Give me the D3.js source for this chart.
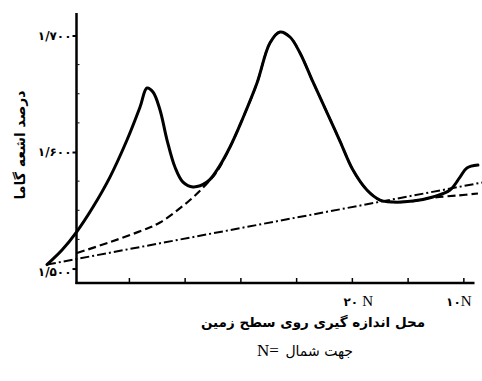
<!DOCTYPE html>
<html><head><meta charset="utf-8">
<script src="https://cdn.jsdelivr.net/npm/d3@7"></script>
<style>body{margin:0;background:#fff}</style>
</head><body>
<script>
// ---- data (latitude in degrees north, gamma-ray percentage) ----
const solidLat = [47.35,46.0,44.7,43.22,41.7,40.17,39.0,38.38,37.84,37.21,36.58,35.87,35.15,34.25,33.0,32.1,30.93,29.77,28.51,27.35,26.45,25.55,24.65,23.49,22.23,21.07,19.9,18.65,17.48,16.31,14.52,12.73,11.2,10.3,9.68,8.69];
const solidVal = [1.5034,1.5159,1.5313,1.5528,1.5785,1.6103,1.6386,1.6549,1.6515,1.6361,1.6103,1.5871,1.5742,1.5700,1.5742,1.5845,1.6043,1.6292,1.6592,1.6936,1.7030,1.6987,1.6850,1.6601,1.6339,1.6094,1.5845,1.5674,1.5588,1.5571,1.5579,1.5614,1.5674,1.5785,1.5863,1.5888];
const dashedLat = [44.66,41.7,38.74,37.21,34.52,33.0,32.1,30.93,29.77,28.51,27.35,26.45,25.55,24.65,23.49,22.23,21.07,19.9,18.65,17.48,16.31,14.52,12.73,10.5,8.69];
const dashedVal = [1.5133,1.5227,1.5330,1.5395,1.5588,1.5730,1.5833,1.6043,1.6292,1.6592,1.6936,1.7030,1.6987,1.6850,1.6601,1.6339,1.6094,1.5845,1.5674,1.5588,1.5571,1.5579,1.5609,1.5627,1.5644];
const dashDotLat = [47.35, 8.33];
const dashDotVal = [1.5034, 1.5738];

const yTicks = [1.5, 1.6, 1.7];
const yTickLabels = ["۱/۵۰۰", "۱/۶۰۰", "۱/۷۰۰"];
const yMinor = [1.525, 1.55, 1.575, 1.625, 1.65, 1.675];
const xTicks = [40, 35, 30, 25, 20, 15, 10];
const xTickLabels = ["", "", "", "", "۲۰ N", "", "۱۰N"];
const yTitle = "درصد اشعه گاما";
const xTitle = "محل اندازه گیری روی سطح زمین";
const noteSymbol = "N=";
const noteText = "جهت شمال";

// ---- layout ----
const W = 482, H = 381;
const svg = d3.select("body").append("svg").attr("width", W).attr("height", H);
const x = d3.scaleLinear().domain([44.7, 9.0]).range([76.5, 474.5]);
const y = d3.scaleLinear().domain([1.4876, 1.7193]).range([283, 13]);

const line = d3.line().x(d => x(d[0])).y(d => y(d[1])).curve(d3.curveCatmullRom.alpha(0.5));

// dash-dot
svg.append("path")
  .attr("d", d3.line().x(d => x(d[0])).y(d => y(d[1]))(dashDotLat.map((d, i) => [d, dashDotVal[i]])))
  .attr("fill", "none").attr("stroke", "#000").attr("stroke-width", 2)
  .attr("stroke-dasharray", "9,3,2,3");
// dashed
svg.append("path")
  .attr("d", line(dashedLat.map((d, i) => [d, dashedVal[i]])))
  .attr("fill", "none").attr("stroke", "#000").attr("stroke-width", 2.2)
  .attr("stroke-dasharray", "8,4");
// solid
svg.append("path")
  .attr("d", line(solidLat.map((d, i) => [d, solidVal[i]])))
  .attr("fill", "none").attr("stroke", "#000").attr("stroke-width", 3)
  .attr("stroke-linejoin", "round").attr("stroke-linecap", "round");

// y axis
const yAxis = svg.append("g").attr("transform", `translate(${x(44.7)},0)`)
  .call(d3.axisLeft(y).tickValues(yTicks).tickSize(4).tickPadding(1)
    .tickFormat((d, i) => yTickLabels[i]));
yAxis.select(".domain").remove();
yAxis.selectAll(".tick line").attr("stroke-width", 2);
yAxis.selectAll("text").attr("font-family", "DejaVu Sans").attr("font-weight", "bold")
  .attr("font-size", 12).attr("fill", "#000").attr("dy", (d) => d === 1.5 ? "0.55em" : "0.32em");
yAxis.append("line").attr("x1", 0).attr("x2", 0).attr("y1", 13).attr("y2", 284)
  .attr("stroke", "#000").attr("stroke-width", 2.5);
yAxis.selectAll(".minor").data(yMinor).join("line").attr("class", "minor")
  .attr("x1", 1).attr("x2", 3).attr("y1", d => y(d)).attr("y2", d => y(d))
  .attr("stroke", "#000").attr("stroke-width", 1);

// x axis
const xAxis = svg.append("g").attr("transform", `translate(0,283)`)
  .call(d3.axisBottom(x).tickValues(xTicks).tickSizeInner(-5).tickSizeOuter(0).tickPadding(12)
    .tickFormat((d, i) => xTickLabels[i]));
xAxis.select(".domain").remove();
xAxis.append("line").attr("x1", x(44.7) - 1).attr("x2", x(9.0)).attr("y1", 0).attr("y2", 0)
  .attr("stroke", "#000").attr("stroke-width", 2.5);
xAxis.selectAll(".tick line").attr("stroke-width", 1.5);
xAxis.selectAll(".tick text").each(function(d, i) {
  const t = d3.select(this).text("");
  const lbl = xTickLabels[i];
  if (!lbl) return;
  const parts = lbl.split("N");
  t.attr("font-size", 15).attr("fill", "#000").attr("dx", i === 4 ? 6 : -5);
  t.append("tspan").attr("font-family", "DejaVu Sans").attr("font-weight", "bold").attr("font-size", 12).text(parts[0]);
  t.append("tspan").attr("font-family", "Liberation Serif").text("N");
});

// titles
svg.append("text").attr("transform", "translate(25,145) rotate(-90)")
  .attr("text-anchor", "middle").attr("font-family", "DejaVu Sans").attr("font-weight", "bold")
  .attr("font-size", 14).attr("fill", "#000").text(yTitle);
svg.append("text").attr("x", 313).attr("y", 327)
  .attr("text-anchor", "middle").attr("font-family", "DejaVu Sans").attr("font-weight", "bold")
  .attr("font-size", 13.5).attr("fill", "#000").text(xTitle);
svg.append("text").attr("x", 257).attr("y", 356)
  .attr("text-anchor", "start").attr("font-family", "Liberation Serif")
  .attr("font-size", 17).attr("fill", "#000").text(noteSymbol);
svg.append("text").attr("x", 353).attr("y", 356)
  .attr("text-anchor", "end").attr("font-family", "DejaVu Sans")
  .attr("font-size", 14).attr("fill", "#000").text(noteText);
</script>
</body></html>
